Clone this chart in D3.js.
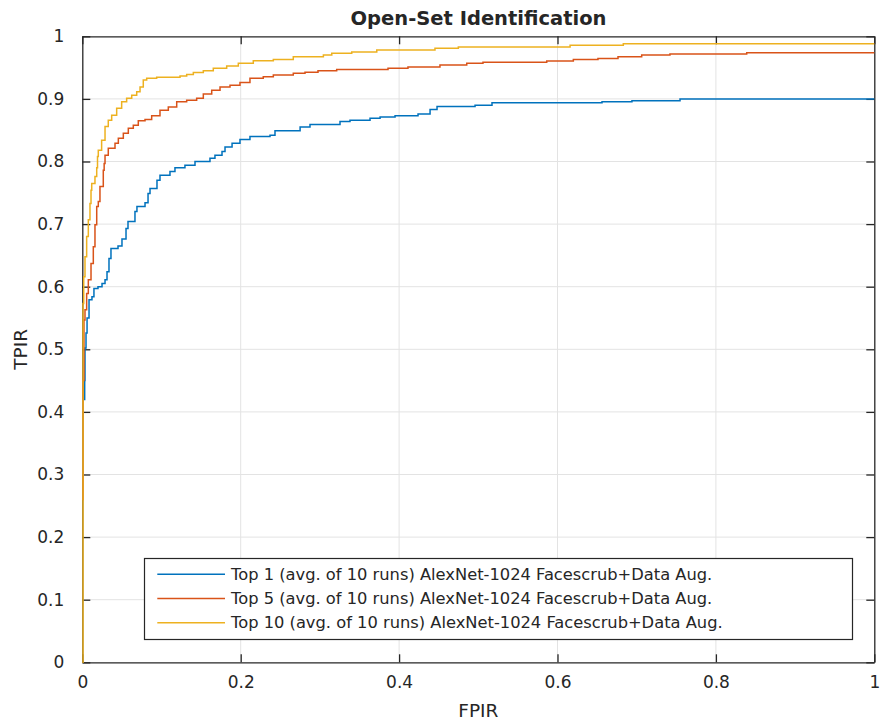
<!DOCTYPE html>
<html>
<head>
<meta charset="utf-8">
<script src="https://cdn.jsdelivr.net/npm/d3@7/dist/d3.min.js"></script>
<style>
  html, body { margin: 0; padding: 0; background: #fff; }
  svg { display: block; }
  text { font-family: "DejaVu Sans", sans-serif; fill: #262626; }
</style>
</head>
<body>
<svg id="chart" width="880" height="722"></svg>
<script>
// Open-set identification curves: FPIR (x) vs TPIR (y), step-wise
const title = "Open-Set Identification";
const xLabel = "FPIR";
const yLabel = "TPIR";

const xTicks = [0, 0.2, 0.4, 0.6, 0.8, 1];
const yTicks = [0, 0.1, 0.2, 0.3, 0.4, 0.5, 0.6, 0.7, 0.8, 0.9, 1];

const seriesNames = [
  "Top 1 (avg. of 10 runs) AlexNet-1024 Facescrub+Data Aug.",
  "Top 5 (avg. of 10 runs) AlexNet-1024 Facescrub+Data Aug.",
  "Top 10 (avg. of 10 runs) AlexNet-1024 Facescrub+Data Aug."
];
const seriesColors = ["#0072BD", "#D95319", "#EDB120"];

// [FPIR, TPIR] breakpoints of each staircase
const top1 = [
  [0, 0.30], [0.001, 0.42], [0.003, 0.45], [0.0034, 0.502], [0.0047, 0.526],
  [0.006, 0.55], [0.0085, 0.579], [0.0122, 0.584], [0.0147, 0.597], [0.0198, 0.600],
  [0.0249, 0.605], [0.0287, 0.611], [0.0312, 0.624], [0.0337, 0.645], [0.0362, 0.661],
  [0.0451, 0.665], [0.0501, 0.676], [0.0552, 0.693], [0.0577, 0.704], [0.0665, 0.720],
  [0.069, 0.728], [0.0792, 0.734], [0.083, 0.749], [0.0855, 0.757], [0.0943, 0.770],
  [0.0981, 0.778], [0.1107, 0.784], [0.117, 0.790], [0.1296, 0.794], [0.1423, 0.800],
  [0.1612, 0.805], [0.1675, 0.810], [0.1764, 0.816], [0.1802, 0.823], [0.1891, 0.829],
  [0.1991, 0.835], [0.2117, 0.840], [0.237, 0.842], [0.2433, 0.849], [0.275, 0.855],
  [0.2875, 0.859], [0.3254, 0.864], [0.338, 0.866], [0.3633, 0.869], [0.376, 0.871],
  [0.3949, 0.873], [0.4239, 0.876], [0.4391, 0.883], [0.4479, 0.888], [0.4959, 0.890],
  [0.5173, 0.894], [0.6562, 0.8955], [0.694, 0.897], [0.7547, 0.900], [1, 0.900]
];
const top5 = [
  [0, 0.26], [0.001, 0.45], [0.0021, 0.547], [0.0034, 0.563], [0.0055, 0.589],
  [0.0076, 0.611], [0.011, 0.637], [0.0139, 0.664], [0.016, 0.699], [0.0182, 0.728],
  [0.0202, 0.736], [0.0223, 0.760], [0.0265, 0.786], [0.0276, 0.797], [0.0287, 0.810],
  [0.0328, 0.821], [0.0413, 0.829], [0.0455, 0.837], [0.0518, 0.845], [0.0581, 0.853],
  [0.0644, 0.858], [0.0707, 0.865], [0.0792, 0.867], [0.0876, 0.873], [0.0981, 0.882],
  [0.1086, 0.887], [0.1192, 0.8955], [0.1318, 0.898], [0.1444, 0.901], [0.1528, 0.908],
  [0.1634, 0.914], [0.1739, 0.919], [0.1865, 0.922], [0.1991, 0.926], [0.2117, 0.933],
  [0.2285, 0.9355], [0.2412, 0.938], [0.2664, 0.941], [0.2812, 0.9425], [0.2976, 0.945],
  [0.3212, 0.947], [0.386, 0.949], [0.4112, 0.951], [0.4516, 0.954], [0.4854, 0.957],
  [0.5059, 0.9585], [0.5864, 0.9605], [0.62, 0.963], [0.6511, 0.9646], [0.6764, 0.9675],
  [0.7063, 0.970], [0.742, 0.9717], [0.8389, 0.9738], [1, 0.9738]
];
const top10 = [
  [0, 0], [0.0009, 0.573], [0.0018, 0.616], [0.0034, 0.648], [0.0055, 0.680],
  [0.0076, 0.707], [0.0097, 0.733], [0.011, 0.754], [0.0119, 0.765], [0.016, 0.776],
  [0.0182, 0.790], [0.0192, 0.808], [0.0202, 0.818], [0.0244, 0.834], [0.0287, 0.856],
  [0.0328, 0.866], [0.0371, 0.874], [0.0434, 0.885], [0.0497, 0.8955], [0.056, 0.901],
  [0.0624, 0.906], [0.0687, 0.9115], [0.0729, 0.919], [0.077, 0.930], [0.0813, 0.933],
  [0.0939, 0.9345], [0.1234, 0.9365], [0.1318, 0.939], [0.1402, 0.942], [0.1528, 0.945],
  [0.1654, 0.949], [0.1823, 0.9525], [0.197, 0.957], [0.2159, 0.961], [0.2412, 0.963],
  [0.2664, 0.9675], [0.3044, 0.970], [0.315, 0.973], [0.3402, 0.975], [0.3718, 0.978],
  [0.4453, 0.981], [0.4748, 0.983], [0.6159, 0.9856], [0.6831, 0.988], [1, 0.988]
];
const seriesData = [top1, top5, top10];

const svg = d3.select("#chart");
const plot = { left: 82.3, right: 874.3, top: 36.3, bottom: 662.3 };

const x = d3.scaleLinear().domain([0, 1]).range([plot.left, plot.right]);
const y = d3.scaleLinear().domain([0, 1]).range([plot.bottom, plot.top]);

const axisColor = "#262626";
const tickLen = 8;

// grid
const grid = svg.append("g");
grid.selectAll("line.gx").data(xTicks.slice(1, -1)).join("line")
  .attr("x1", d => x(d)).attr("x2", d => x(d))
  .attr("y1", plot.top).attr("y2", plot.bottom)
  .attr("stroke", "#e3e3e3").attr("stroke-width", 1);
grid.selectAll("line.gy").data(yTicks.slice(1, -1)).join("line")
  .attr("x1", plot.left).attr("x2", plot.right)
  .attr("y1", d => y(d)).attr("y2", d => y(d))
  .attr("stroke", "#e3e3e3").attr("stroke-width", 1);

// axes with inward ticks on all four sides
const fmt = d => d3.format("")(d);
const bottomAxis = d3.axisBottom(x).tickValues(xTicks).tickFormat(fmt).tickSizeInner(-tickLen).tickSizeOuter(0).tickPadding(14);
const topAxis = d3.axisTop(x).tickValues(xTicks).tickFormat("").tickSizeInner(-tickLen).tickSizeOuter(0);
const leftAxis = d3.axisLeft(y).tickValues(yTicks).tickFormat(fmt).tickSizeInner(-tickLen).tickSizeOuter(0).tickPadding(18);
const rightAxis = d3.axisRight(y).tickValues(yTicks).tickFormat("").tickSizeInner(-tickLen).tickSizeOuter(0);

function styleAxis(g) {
  g.select(".domain").attr("stroke", axisColor).attr("stroke-width", 1.3);
  g.selectAll(".tick line").attr("stroke", axisColor).attr("stroke-width", 1.3);
  g.selectAll(".tick text").attr("fill", axisColor)
    .style("font-family", "'DejaVu Sans', sans-serif").style("font-size", "17px");
}

svg.append("g").attr("transform", `translate(0,${plot.bottom})`).call(bottomAxis).call(styleAxis);
svg.append("g").attr("transform", `translate(0,${plot.top})`).call(topAxis).call(styleAxis);
svg.append("g").attr("transform", `translate(${plot.left},0)`).call(leftAxis).call(styleAxis);
svg.append("g").attr("transform", `translate(${plot.right},0)`).call(rightAxis).call(styleAxis);

// curves
const line = d3.line().x(d => x(d[0])).y(d => y(d[1])).curve(d3.curveStepAfter);
svg.append("g").selectAll("path").data(seriesData).join("path")
  .attr("d", d => line(d))
  .attr("fill", "none")
  .attr("stroke", (d, i) => seriesColors[i])
  .attr("stroke-width", 1.5)
  .attr("stroke-linejoin", "miter");

// title and axis labels
svg.append("text").attr("x", 478.5).attr("y", 25)
  .attr("text-anchor", "middle").style("font-weight", "bold").style("font-size", "19.5px")
  .text(title);
svg.append("text").attr("x", (plot.left + plot.right) / 2).attr("y", 717)
  .attr("text-anchor", "middle").style("font-size", "18.5px").text(xLabel);
svg.append("text").attr("transform", `translate(27,${(plot.top + plot.bottom) / 2}) rotate(-90)`)
  .attr("text-anchor", "middle").style("font-size", "18.5px").text(yLabel);

// legend
const legend = { x: 144.5, y: 558.5, w: 708, h: 81 };
const lg = svg.append("g");
lg.append("rect").attr("x", legend.x).attr("y", legend.y).attr("width", legend.w).attr("height", legend.h)
  .attr("fill", "#fff").attr("stroke", axisColor).attr("stroke-width", 1.2);
const rowY = [574.3, 598.5, 622.7];
seriesNames.forEach((name, i) => {
  lg.append("line").attr("x1", 157.3).attr("x2", 225).attr("y1", rowY[i]).attr("y2", rowY[i])
    .attr("stroke", seriesColors[i]).attr("stroke-width", 1.5);
  lg.append("text").attr("x", 231).attr("y", rowY[i]).attr("dy", "0.35em")
    .style("font-size", "16.3px").text(name);
});
</script>
</body>
</html>
